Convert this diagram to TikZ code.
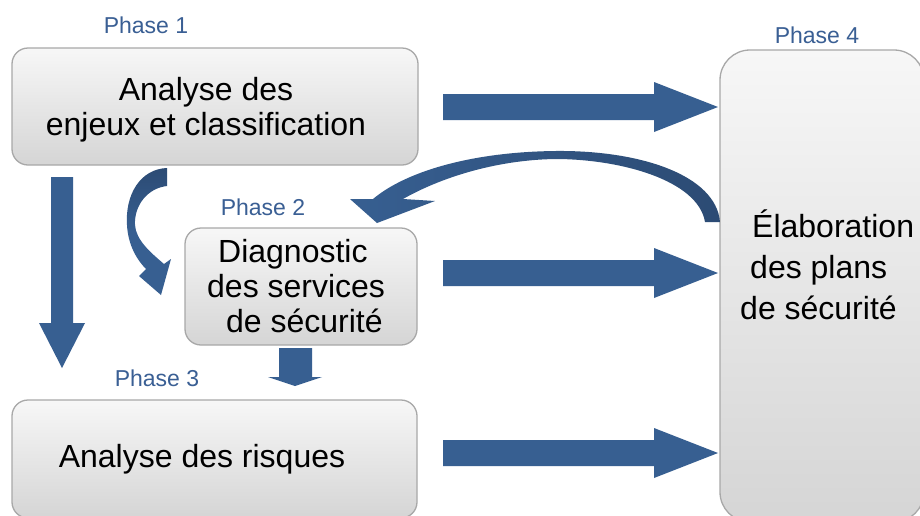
\documentclass[tikz,border=0pt]{standalone}
\usepackage{fontspec}
\setmainfont{Liberation Sans}
\definecolor{arrowblue}{HTML}{375F91}
\definecolor{arrowdark}{HTML}{2C4B74}
\definecolor{phaseblue}{HTML}{3A5F94}
\definecolor{boxtop}{HTML}{F7F7F7}
\definecolor{boxbot}{HTML}{D5D5D5}
\definecolor{boxline}{HTML}{A8A8A8}
\tikzset{
  phasebox/.style={draw=boxline, line width=1.3pt, top color=boxtop, bottom color=boxbot, rounded corners=16pt, inner sep=0pt},
  phaselabel/.style={text=phaseblue, font=\fontsize{23}{26}\selectfont, inner sep=0pt},
  boxtext/.style={font=\fontsize{32}{35}\selectfont, align=center, inner sep=0pt, text=black},
  blockarrow/.style={fill=arrowblue, draw=none}
}
\begin{document}
\begin{tikzpicture}[x=1pt,y=-1pt]
\useasboundingbox (0,0) rectangle (920,515);
\fill[white] (0,0) rectangle (920,515);

% boxes
\node[phasebox, minimum width=406pt, minimum height=117pt] (b1) at (215,106.5) {};
\node[phasebox, minimum width=232pt, minimum height=117pt] (b2) at (301,286.5) {};
\node[phasebox, minimum width=405pt, minimum height=118pt] (b3) at (214.5,459) {};
\node[phasebox, rounded corners=30pt, minimum width=204pt, minimum height=472pt] (b4) at (822,286) {};

% box texts
\node[boxtext] (t1) at (206,110) {Analyse des\\enjeux et classification};
\node[boxtext, align=left, anchor=west] (t2) at (207,286) {\hspace{11pt}Diagnostic\\des services\\\hspace{19pt}de sécurité};
\node[boxtext] (t3) at (202,459) {Analyse des risques};
\node[boxtext, font=\fontsize{32}{41}\selectfont, align=left, anchor=west] (t4) at (740,265) {\hspace{12pt}Élaboration\\\hspace{10pt}des plans\\de sécurité};

% phase labels
\node[phaselabel] (p1) at (146,25) {Phase 1};
\node[phaselabel] (p2) at (263,207) {Phase 2};
\node[phaselabel] (p3) at (157,378) {Phase 3};
\node[phaselabel] (p4) at (817,35) {Phase 4};

% right arrows
\foreach \yc/\nm in {107/ra1,273/ra2,453/ra3}{
  \fill[blockarrow] (443,\yc-13) -- (654,\yc-13) -- (654,\yc-25) -- (718,\yc) coordinate (\nm)
     -- (654,\yc+25) -- (654,\yc+13) -- (443,\yc+13) -- cycle;
}

% down arrow left
\fill[blockarrow] (51,177) -- (73,177) -- (73,323) -- (85,323) -- (62,368) -- (39,323) -- (51,323) -- cycle;

% small down arrow under phase 2
\fill[blockarrow] (279,348) -- (312,348) -- (312,377) -- (322,377) -- (295,386) -- (268,377) -- (279,377) -- cycle;

% small curved arrow from phase 1 to phase 2
\shade[top color=arrowdark, bottom color=arrowblue, middle color=arrowblue]
  (167,168) .. controls (140,169) and (125,195) .. (127,225)
  .. controls (128,245) and (137,260) .. (146,269)
  -- (139,276) -- (161,295) -- (171,259) -- (164,264)
  .. controls (150,252) and (136,240) .. (135,225)
  .. controls (134,205) and (148,188) .. (167,186) -- cycle;

% big curved arrow from phase 4 back to phase 2
\shade[left color=arrowblue, right color=arrowdark]
  (720,222) .. controls (716,175) and (640,150) .. (555,151)
  .. controls (470,152) and (405,172) .. (373,199)
  -- (350,199) -- (377,223) -- (435,201) -- (403,199)
  .. controls (440,178) and (495,160) .. (555,159)
  .. controls (620,159) and (698,180) .. (705,222) -- cycle;
\end{tikzpicture}
\end{document}
